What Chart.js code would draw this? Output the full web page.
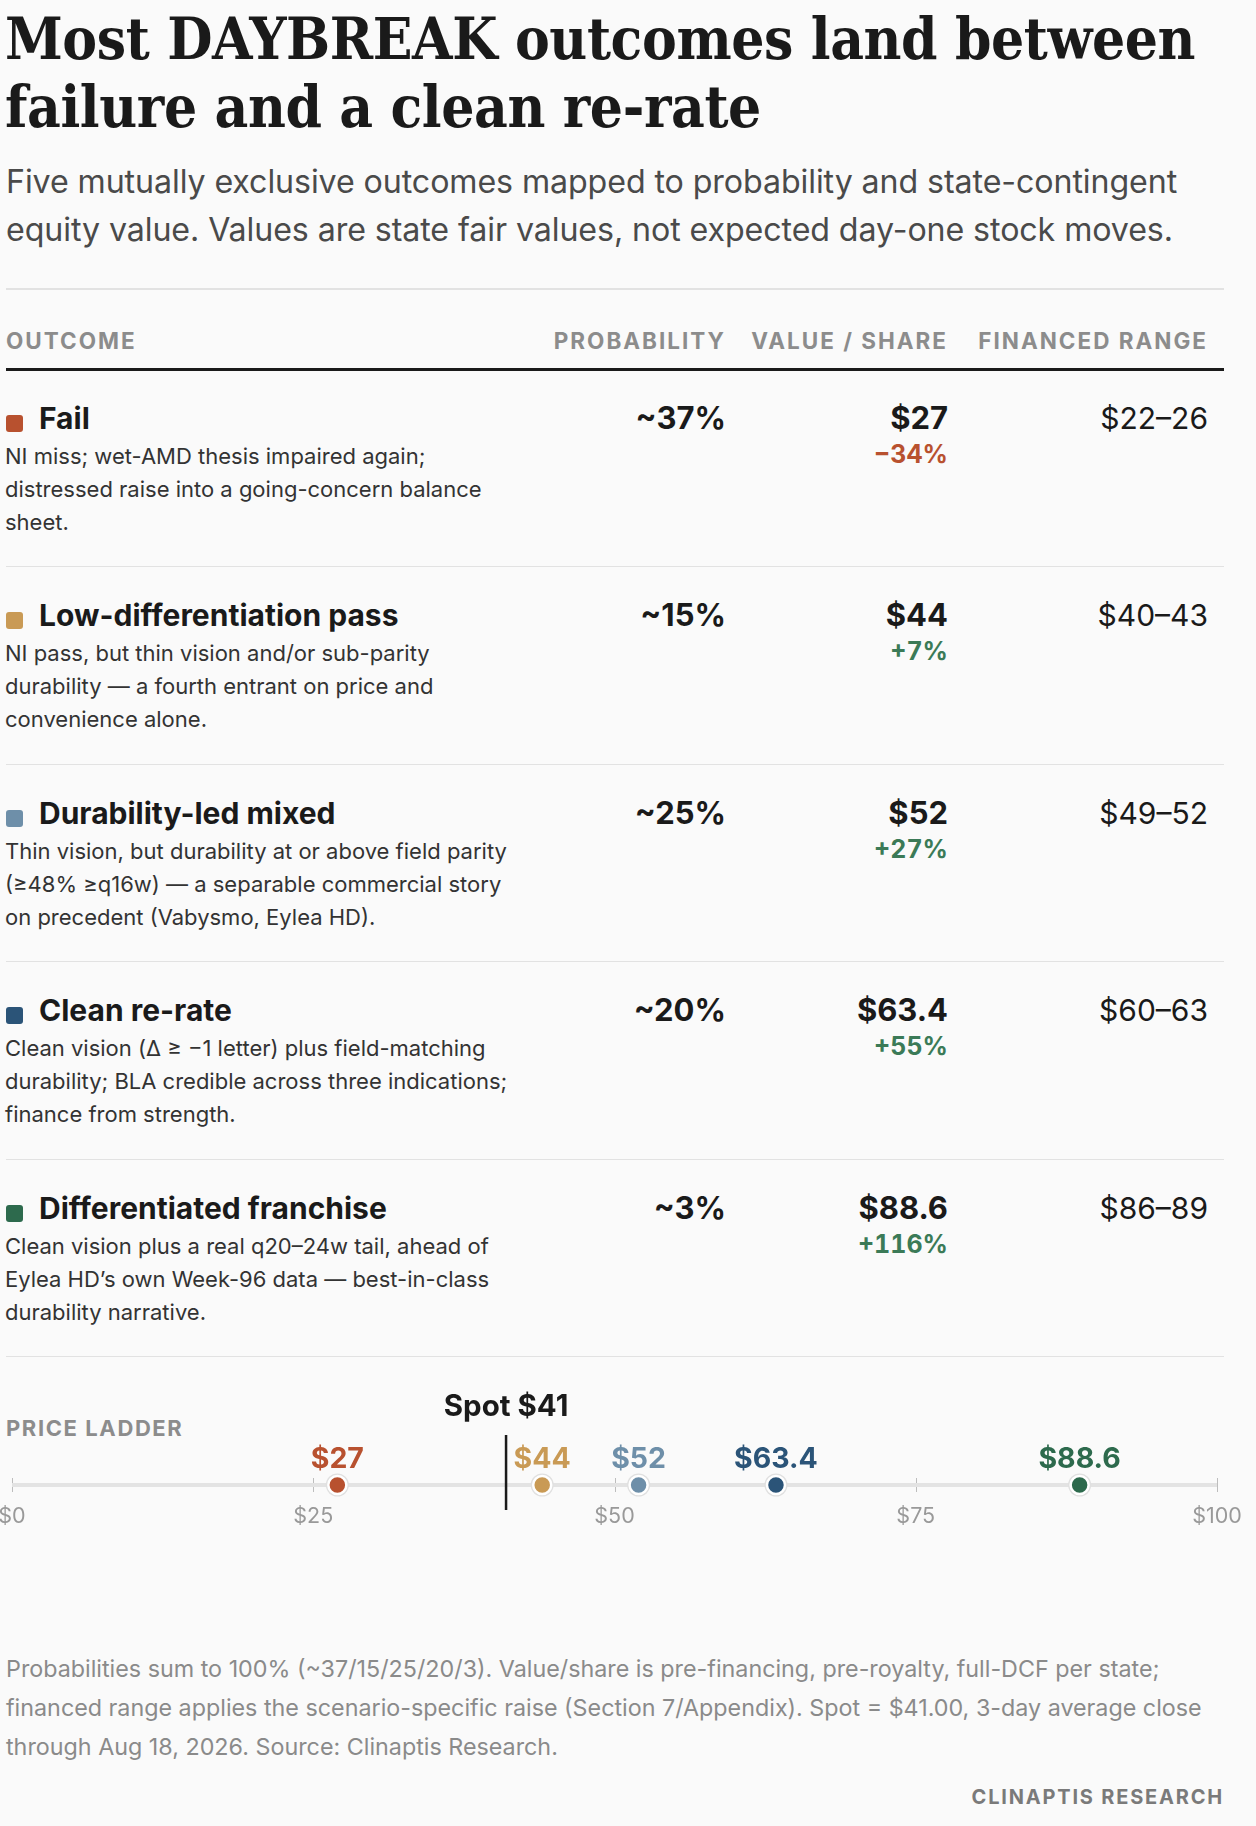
<!DOCTYPE html>
<html>
<head>
<meta charset="utf-8">
<script src="https://cdn.jsdelivr.net/npm/chart.js@4.4.1/dist/chart.umd.min.js"></script>
<style>
  html, body { margin: 0; padding: 0; background: #fafafa; }
  body { width: 1256px; height: 1826px; position: relative; overflow: hidden; font-family: Inter, "Noto Sans", sans-serif; color: #1a1a1a; }
  .abs { position: absolute; white-space: nowrap; }
  #title { left: 5px; top: 5px; font-family: "DejaVu Serif Condensed", "DejaVu Serif", serif; font-weight: 700; font-size: 58px; line-height: 68px; letter-spacing: -0.4px; color: #1a1a1a; }
  #subtitle { left: 6px; top: 158px; font-size: 32.2px; line-height: 48px; color: #4a4a4a; letter-spacing: -0.1px; }
  .rule { position: absolute; left: 6px; width: 1218px; height: 2px; background: #e2e2e2; }
  .hdr { position: absolute; top: 328px; font-size: 22.5px; line-height: 26px; font-weight: 700; letter-spacing: 2px; color: #8c8c8c; }
  .row-title { font-size: 30px; line-height: 36px; font-weight: 700; color: #1a1a1a; }
  .num { font-size: 31px; line-height: 36px; font-weight: 700; color: #1a1a1a; text-align: right; }
  .rng { font-size: 30px; line-height: 36px; font-weight: 400; color: #1a1a1a; text-align: right; }
  .chg { font-size: 25px; line-height: 26px; font-weight: 700; text-align: right; font-feature-settings: "tnum" 1; }
  .desc { font-size: 22px; line-height: 33px; color: #333; white-space: pre; }
  .swatch { position: absolute; width: 17px; height: 17px; border-radius: 3px; }
  #ladderLabel { left: 6px; top: 1416px; font-size: 22px; font-weight: 700; letter-spacing: 1.6px; color: #8c8c8c; line-height: 24px; }
  #note { left: 6px; top: 1649px; font-size: 23.3px; line-height: 39px; color: #8a8a8a; }
  #credit { right: 32px; top: 1786px; font-size: 20px; line-height: 22px; font-weight: 700; letter-spacing: 1.8px; color: #7a7a7a; }
  #ladderWrap { position: absolute; left: 0; top: 1345px; width: 1256px; height: 280px; }
</style>
</head>
<body>
<div id="title" class="abs">Most DAYBREAK outcomes land between<br>failure and a clean re-rate</div>
<div id="subtitle" class="abs">Five mutually exclusive outcomes mapped to probability and state-contingent<br>equity value. Values are state fair values, not expected day-one stock moves.</div>
<div class="rule" style="top:288px"></div>

<div class="hdr" style="left:6px">OUTCOME</div>
<div class="hdr" style="right:530px">PROBABILITY</div>
<div class="hdr" style="right:308px">VALUE / SHARE</div>
<div class="hdr" style="right:48px">FINANCED RANGE</div>
<div class="rule" style="top:368px;height:3px;background:#1a1a1a"></div>

<div id="rows"></div>

<div id="ladderLabel" class="abs">PRICE LADDER</div>
<div id="ladderWrap"><canvas id="ladder"></canvas></div>

<div id="note" class="abs">Probabilities sum to 100% (~37/15/25/20/3). Value/share is pre-financing, pre-royalty, full-DCF per state;<br>financed range applies the scenario-specific raise (Section 7/Appendix). Spot = $41.00, 3-day average close<br>through Aug 18, 2026. Source: Clinaptis Research.</div>
<div id="credit" class="abs">CLINAPTIS RESEARCH</div>

<script>
// Outcome data
const outcomes = ['Fail', 'Low-differentiation pass', 'Durability-led mixed', 'Clean re-rate', 'Differentiated franchise'];
const probabilities = [37, 15, 25, 20, 3];
const values = [27, 44, 52, 63.4, 88.6];
const changes = [-34, 7, 27, 55, 116];
const rangeLow = [22, 40, 49, 60, 86];
const rangeHigh = [26, 43, 52, 63, 89];
const descriptions = [
  'NI miss; wet-AMD thesis impaired again;\ndistressed raise into a going-concern balance\nsheet.',
  'NI pass, but thin vision and/or sub-parity\ndurability \u2014 a fourth entrant on price and\nconvenience alone.',
  'Thin vision, but durability at or above field parity\n(\u226548% \u2265q16w) \u2014 a separable commercial story\non precedent (Vabysmo, Eylea HD).',
  'Clean vision (\u0394 \u2265 \u22121 letter) plus field-matching\ndurability; BLA credible across three indications;\nfinance from strength.',
  'Clean vision plus a real q20\u201324w tail, ahead of\nEylea HD\u2019s own Week-96 data \u2014 best-in-class\ndurability narrative.'
];
const spot = 41;
const ladderTicks = [0, 25, 50, 75, 100];

const colors = ['#b8512f', '#c99a55', '#6e8fa9', '#2b5478', '#2d6a4d'];
const upColor = '#3b7a57';
const downColor = '#b8512f';

// Table rows
const rowsEl = document.getElementById('rows');
const rowTop = 370, rowH = 197.4;
outcomes.forEach((name, i) => {
  const top = rowTop + i * rowH;
  const add = (text, cls, style) => {
    const d = document.createElement('div');
    d.className = 'abs ' + cls;
    d.setAttribute('style', style);
    d.textContent = text;
    rowsEl.appendChild(d);
    return d;
  };
  const sw = document.createElement('div');
  sw.className = 'swatch';
  sw.style.left = '6px';
  sw.style.top = (top + 45) + 'px';
  sw.style.background = colors[i];
  rowsEl.appendChild(sw);

  add(name, 'row-title', `left:39px;top:${top + 30}px`);
  add(descriptions[i], 'desc', `left:5px;top:${top + 70}px`);
  add('~' + probabilities[i] + '%', 'num', `right:530px;top:${top + 30}px`);
  add('$' + values[i], 'num', `right:308px;top:${top + 30}px`);
  const c = changes[i];
  const chg = add((c < 0 ? '\u2212' : '+') + Math.abs(c) + '%', 'chg', `right:308px;top:${top + 71}px`);
  chg.style.color = c < 0 ? downColor : upColor;
  add('$' + rangeLow[i] + '\u2013' + rangeHigh[i], 'rng', `right:48px;top:${top + 30}px`);

  const r = document.createElement('div');
  r.className = 'rule';
  r.style.top = Math.round(top + rowH - 1) + 'px';
  r.style.height = '1px';
  rowsEl.appendChild(r);
});

// Price ladder
const ladderDecor = {
  id: 'ladderDecor',
  beforeDatasetsDraw(chart) {
    const { ctx, scales: { x, y } } = chart;
    const y0 = y.getPixelForValue(0);
    ctx.save();
    ctx.strokeStyle = '#bdbdbd';
    ctx.lineWidth = 1;
    x.ticks.forEach(t => {
      const px = Math.round(x.getPixelForValue(t.value)) + 0.5;
      ctx.beginPath();
      ctx.moveTo(px, y0 - 7);
      ctx.lineTo(px, y0 + 7);
      ctx.stroke();
    });
    ctx.restore();
  },
  afterDatasetsDraw(chart) {
    const { ctx, scales: { x, y } } = chart;
    const y0 = y.getPixelForValue(0);
    const sx = x.getPixelForValue(spot);
    ctx.save();
    ctx.strokeStyle = '#1a1a1a';
    ctx.lineWidth = 2.5;
    ctx.beginPath();
    ctx.moveTo(sx, y0 - 50);
    ctx.lineTo(sx, y0 + 25);
    ctx.stroke();

    ctx.textAlign = 'center';
    ctx.textBaseline = 'middle';
    ctx.font = '700 29.5px Inter';
    ctx.fillStyle = '#1a1a1a';
    ctx.fillText('Spot $' + spot, sx, y0 - 78);

    ctx.font = '700 28.5px Inter';
    values.forEach((v, i) => {
      ctx.fillStyle = colors[i];
      ctx.fillText('$' + v, x.getPixelForValue(v), y0 - 26);
    });
    ctx.restore();
  }
};

new Chart(document.getElementById('ladder'), {
  type: 'scatter',
  data: {
    datasets: [
      {
        label: 'points',
        data: values.map(v => ({ x: v, y: 0 })),
        pointRadius: 9,
        pointHoverRadius: 9,
        pointBackgroundColor: colors,
        pointBorderColor: '#ffffff',
        pointBorderWidth: 2.5,
        clip: false,
        order: 1
      },
      {
        label: 'halo',
        data: values.map(v => ({ x: v, y: 0 })),
        pointRadius: 11.5,
        pointBackgroundColor: '#e0e0e0',
        pointBorderWidth: 0,
        clip: false,
        order: 2
      },
      {
        label: 'track',
        type: 'line',
        data: [{ x: ladderTicks[0], y: 0 }, { x: ladderTicks[ladderTicks.length - 1], y: 0 }],
        borderColor: '#e3e3e3',
        borderWidth: 4,
        pointRadius: 0,
        clip: false,
        order: 3
      }
    ]
  },
  options: {
    responsive: true,
    maintainAspectRatio: false,
    animation: false,
    events: [],
    layout: { padding: { left: 12, right: 39, top: 20, bottom: 20 } },
    plugins: { legend: { display: false }, tooltip: { enabled: false } },
    scales: {
      x: {
        type: 'linear',
        min: 0,
        max: 100,
        position: { y: 0 },
        afterBuildTicks: axis => { axis.ticks = ladderTicks.map(v => ({ value: v })); },
        afterFit: axis => { axis.paddingLeft = 0; axis.paddingRight = 0; },
        grid: { display: false, drawTicks: false },
        border: { display: false },
        ticks: { padding: 19, color: '#999999', font: { family: 'Inter', size: 21.5 }, callback: v => '$' + v }
      },
      y: { min: -1, max: 1, display: false }
    }
  },
  plugins: [ladderDecor]
});
</script>
</body>
</html>
